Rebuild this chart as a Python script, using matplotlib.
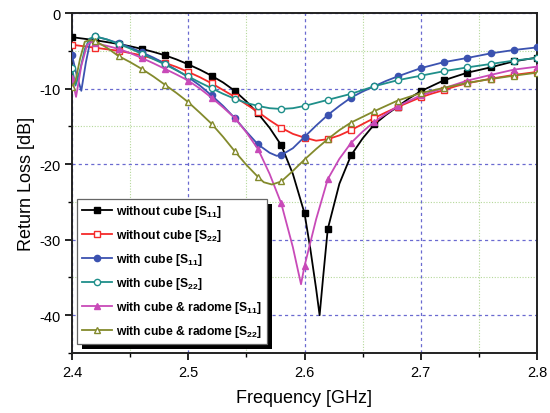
import numpy as np
import matplotlib
matplotlib.use("Agg")
import matplotlib.pyplot as plt
from matplotlib.patches import Rectangle
from matplotlib.ticker import MultipleLocator, FuncFormatter

plt.rcParams['font.family'] = ['Liberation Sans', 'DejaVu Sans']
plt.rcParams['mathtext.fontset'] = 'custom'
plt.rcParams['mathtext.rm'] = 'Liberation Sans'
plt.rcParams['mathtext.bf'] = 'Liberation Sans:bold'
plt.rcParams['mathtext.default'] = 'bf'

# ---- measured return loss [dB] vs frequency [GHz] ----
f_nc_s11 = [2.40, 2.41, 2.42, 2.43, 2.44, 2.45, 2.46, 2.47, 2.48, 2.49, 2.50, 2.51, 2.52,
            2.53, 2.54, 2.55, 2.56, 2.57, 2.58, 2.59, 2.60, 2.605, 2.61, 2.613, 2.616, 2.62,
            2.63, 2.64, 2.65, 2.66, 2.67, 2.68, 2.69, 2.70, 2.72, 2.74, 2.76, 2.78, 2.80]
s_nc_s11 = [-3.2, -3.4, -3.6, -3.85, -4.1, -4.4, -4.75, -5.15, -5.6, -6.15, -6.8, -7.5, -8.3,
            -9.2, -10.3, -11.7, -13.3, -15.2, -17.5, -21.3, -26.5, -31.2, -36.5, -40.0, -35.0, -28.6,
            -22.6, -18.85, -16.6, -14.75, -13.5, -12.4, -11.3, -10.35, -8.9, -7.9, -7.2, -6.4, -5.9]

f_nc_s22 = [2.40, 2.41, 2.42, 2.43, 2.44, 2.45, 2.46, 2.47, 2.48, 2.49, 2.50, 2.51, 2.52,
            2.53, 2.54, 2.55, 2.56, 2.57, 2.58, 2.59, 2.60, 2.61, 2.62, 2.63, 2.64, 2.65,
            2.66, 2.67, 2.68, 2.69, 2.70, 2.71, 2.72, 2.73, 2.74, 2.75, 2.76, 2.77, 2.78, 2.79, 2.80]
s_nc_s22 = [-4.2, -4.4, -4.6, -4.8, -5.0, -5.3, -5.6, -6.05, -6.6, -7.15, -7.8, -8.5, -9.3,
            -10.2, -11.1, -12.1, -13.1, -14.2, -15.2, -16.0, -16.5, -16.9, -16.7, -16.2, -15.5, -14.7,
            -13.9, -13.15, -12.45, -11.8, -11.15, -10.65, -10.2, -9.7, -9.3, -9.0, -8.7, -8.45, -8.2, -8.0, -7.8]

f_c_s11 = [2.40, 2.404, 2.408, 2.412, 2.416, 2.42, 2.43, 2.44, 2.45, 2.46, 2.47, 2.48, 2.49,
           2.50, 2.51, 2.52, 2.53, 2.54, 2.55, 2.56, 2.57, 2.576, 2.58, 2.59, 2.60, 2.61, 2.62,
           2.63, 2.64, 2.65, 2.66, 2.67, 2.68, 2.69, 2.70, 2.72, 2.74, 2.76, 2.78, 2.80]
s_c_s11 = [-5.6, -8.2, -10.3, -6.5, -3.5, -3.1, -3.5, -4.0, -4.55, -5.2, -5.9, -6.7, -7.55,
           -8.5, -9.6, -10.9, -12.3, -13.9, -15.7, -17.4, -18.5, -18.9, -18.8, -17.9, -16.4, -14.9, -13.5,
           -12.3, -11.2, -10.4, -9.7, -9.0, -8.4, -7.85, -7.3, -6.5, -5.95, -5.35, -4.9, -4.55]

f_c_s22 = [2.40, 2.403, 2.407, 2.411, 2.415, 2.42, 2.43, 2.44, 2.45, 2.46, 2.47, 2.48, 2.49,
           2.50, 2.51, 2.52, 2.53, 2.54, 2.55, 2.56, 2.57, 2.58, 2.59, 2.60, 2.61, 2.62,
           2.64, 2.66, 2.68, 2.70, 2.72, 2.74, 2.76, 2.78, 2.80]
s_c_s22 = [-7.3, -9.6, -7.5, -4.8, -3.4, -3.1, -3.5, -4.1, -4.7, -5.4, -6.1, -6.8, -7.6,
           -8.4, -9.2, -9.95, -10.7, -11.35, -11.9, -12.3, -12.6, -12.7, -12.6, -12.3, -11.9, -11.5,
           -10.7, -9.7, -8.9, -8.3, -7.7, -7.2, -6.75, -6.3, -5.95]

f_cr_s11 = [2.40, 2.4035, 2.408, 2.413, 2.417, 2.42, 2.43, 2.44, 2.45, 2.46, 2.47, 2.48, 2.49,
            2.50, 2.51, 2.52, 2.53, 2.54, 2.55, 2.56, 2.57, 2.58, 2.59, 2.597, 2.60, 2.61, 2.62,
            2.63, 2.64, 2.65, 2.66, 2.68, 2.70, 2.72, 2.74, 2.76, 2.78, 2.80]
s_cr_s11 = [-8.6, -11.1, -7.0, -4.2, -3.8, -4.0, -4.35, -4.75, -5.3, -5.95, -6.65, -7.4, -8.15,
            -8.95, -10.0, -11.2, -12.5, -13.9, -15.8, -18.0, -21.3, -25.2, -31.0, -35.9, -33.5, -27.3, -22.0,
            -19.3, -17.2, -15.7, -14.4, -12.35, -10.9, -9.95, -8.95, -8.2, -7.5, -7.1]

f_cr_s22 = [2.40, 2.403, 2.407, 2.411, 2.415, 2.42, 2.43, 2.44, 2.45, 2.46, 2.47, 2.48, 2.49,
            2.50, 2.51, 2.52, 2.53, 2.54, 2.55, 2.56, 2.565, 2.572, 2.58, 2.59, 2.60, 2.61, 2.62,
            2.63, 2.64, 2.66, 2.68, 2.70, 2.72, 2.74, 2.76, 2.78, 2.80]
s_cr_s22 = [-9.8, -9.0, -6.0, -3.8, -3.6, -3.7, -4.6, -5.7, -6.5, -7.4, -8.4, -9.5, -10.6,
            -11.8, -13.2, -14.65, -16.4, -18.3, -20.1, -21.7, -22.4, -22.7, -22.3, -20.9, -19.4, -18.0, -16.7,
            -15.5, -14.5, -13.0, -11.6, -10.6, -9.9, -9.25, -8.75, -8.3, -7.9]

labels = ['without cube [S$_{11}$]', 'without cube [S$_{22}$]', 'with cube [S$_{11}$]',
          'with cube [S$_{22}$]', 'with cube & radome [S$_{11}$]', 'with cube & radome [S$_{22}$]']

series = [
    (f_nc_s11, s_nc_s11, '#000000', 's', 'full'),
    (f_nc_s22, s_nc_s22, '#f42a2a', 's', 'none'),
    (f_c_s11, s_c_s11, '#3b52b0', 'o', 'full'),
    (f_c_s22, s_c_s22, '#1f8f8a', 'o', 'none'),
    (f_cr_s11, s_cr_s11, '#c84ab8', '^', 'full'),
    (f_cr_s22, s_cr_s22, '#838a2c', '^', 'none'),
]

fig = plt.figure(figsize=(5.5, 4.14), dpi=100)
ax = fig.add_axes([72 / 550, 60 / 414, 465 / 550, 340 / 414])

handles = []
for (f, s, c, m, fill), lab in zip(series, labels):
    f = np.asarray(f)
    steps = (f - 2.4) / 0.02
    marks = np.isclose(steps, np.round(steps), atol=1e-6)
    h, = ax.plot(f, s, color=c, lw=1.3, marker=m, markersize=4.5,
                 markevery=list(marks), label=lab,
                 markerfacecolor=(c if fill == 'full' else 'white'),
                 markeredgecolor=c, markeredgewidth=1.0, zorder=3)
    handles.append(h)

ax.set_xlim(2.4, 2.8)
ax.set_ylim(-45, 0)
ax.xaxis.set_major_locator(MultipleLocator(0.1))
ax.xaxis.set_minor_locator(MultipleLocator(0.05))
ax.yaxis.set_major_locator(MultipleLocator(10))
ax.yaxis.set_minor_locator(MultipleLocator(5))
ax.xaxis.set_major_formatter(FuncFormatter(lambda v, p: f'{v:.1f}'))
ax.yaxis.set_major_formatter(FuncFormatter(lambda v, p: f'{v:.0f}'))

ax.grid(which='major', color='#6a6ad0', linestyle=(0, (2.5, 2.5)), linewidth=0.9)
ax.grid(which='minor', color='#b5d89a', linestyle=(0, (1, 1.5)), linewidth=0.8)
ax.set_axisbelow(True)

ax.tick_params(which='major', direction='out', length=5, width=1.2, labelsize=10.5,
               top=False, right=False)
ax.tick_params(which='minor', direction='out', length=3, width=1.0, top=False, right=False)
for sp in ax.spines.values():
    sp.set_linewidth(1.4)
    sp.set_color('#222222')

ax.set_xlabel('Frequency [GHz]', fontsize=13, labelpad=7)
ax.set_ylabel('Return Loss [dB]', fontsize=13, labelpad=3)

leg = ax.legend(handles=handles, loc='lower left', bbox_to_anchor=(0.011, 0.026),
                borderaxespad=0, frameon=True, fancybox=False, framealpha=1,
                edgecolor='#666666', handlelength=2.5, handletextpad=0.35,
                labelspacing=0.66, borderpad=0.4, prop={'weight': 'bold', 'size': 8.7})
leg.get_frame().set_linewidth(0.9)
leg.set_zorder(5)

# drop shadow behind the legend box
fig.canvas.draw()
bb = leg.get_window_extent()
off = 5
shadow = Rectangle((bb.x0 + off, bb.y0 - off), bb.width, bb.height,
                   transform=None, facecolor='black', edgecolor='none', zorder=4)
ax.add_artist(shadow)

fig.savefig('out.png', dpi=100)
